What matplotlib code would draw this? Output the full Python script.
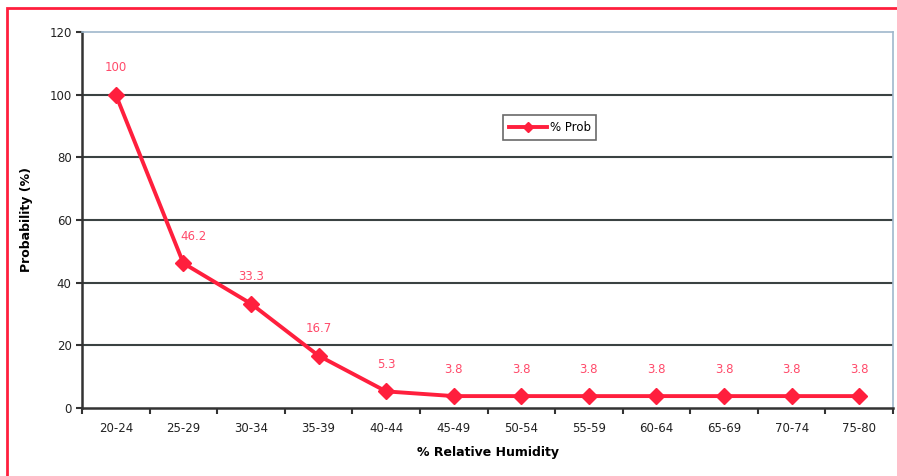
import numpy as np
import matplotlib.pyplot as plt
from matplotlib.patches import Rectangle

categories = ["20-24", "25-29", "30-34", "35-39", "40-44", "45-49",
              "50-54", "55-59", "60-64", "65-69", "70-74", "75-80"]
prob = [100, 46.2, 33.3, 16.7, 5.3, 3.8, 3.8, 3.8, 3.8, 3.8, 3.8, 3.8]
labels = ["100", "46.2", "33.3", "16.7", "5.3", "3.8", "3.8", "3.8",
          "3.8", "3.8", "3.8", "3.8"]

red = "#ff1f3d"
x = np.arange(len(categories))

fig = plt.figure(figsize=(8.97, 4.76), dpi=100)
ax = fig.add_axes([82 / 897, 1 - 408 / 476, 811 / 897, 376 / 476])

for yv in range(20, 120, 20):
    ax.axhline(yv, color="#3a4242", lw=1.5, zorder=1)

ax.plot(x, prob, "-D", color=red, lw=2.8, ms=8.5, label="% Prob", zorder=3)

for i, (xv, yv) in enumerate(zip(x, prob)):
    dx = 0.15 if i == 1 else 0
    ax.text(xv + dx, yv + 6.5, labels[i], color="#ff4a6a", fontsize=8.5,
            ha="center", va="bottom")

ax.set_xlim(-0.5, len(categories) - 0.5)
ax.set_ylim(0, 120)
ax.set_yticks(range(0, 121, 20))
ax.set_xticks(x)
ax.set_xticklabels(categories, fontsize=8.5, color="#222222")
ax.set_xticks(np.arange(-0.5, len(categories), 1), minor=True)
ax.tick_params(axis="x", which="major", length=0, pad=10)
ax.tick_params(axis="x", which="minor", length=4, width=1.5, color="#333333")
ax.tick_params(axis="y", length=4, width=1.5, labelsize=8.5, color="#333333",
               labelcolor="#222222")

for side in ["left", "bottom"]:
    ax.spines[side].set_color("#333333")
    ax.spines[side].set_linewidth(1.8)
for side in ["top", "right"]:
    ax.spines[side].set_color("#9fb8cc")
    ax.spines[side].set_linewidth(1.2)

ax.set_xlabel("% Relative Humidity", fontsize=9, fontweight="bold", labelpad=8)
ax.set_ylabel("Probability (%)", fontsize=9, fontweight="bold", labelpad=12)

leg = ax.legend(loc="center", bbox_to_anchor=(0.577, 0.745), fontsize=8.5,
                frameon=True, fancybox=False, handlelength=3.2,
                borderpad=0.5, handletextpad=0.2, markerscale=0.6)
leg.get_frame().set_edgecolor("#444444")
leg.get_frame().set_linewidth(1.2)

fig.patches.append(Rectangle((7 / 897, -0.1), 1.2, 1 - 8 / 476 + 0.1,
                             transform=fig.transFigure, fill=False,
                             edgecolor=red, lw=2, zorder=10))

plt.savefig("out.png", dpi=100)
